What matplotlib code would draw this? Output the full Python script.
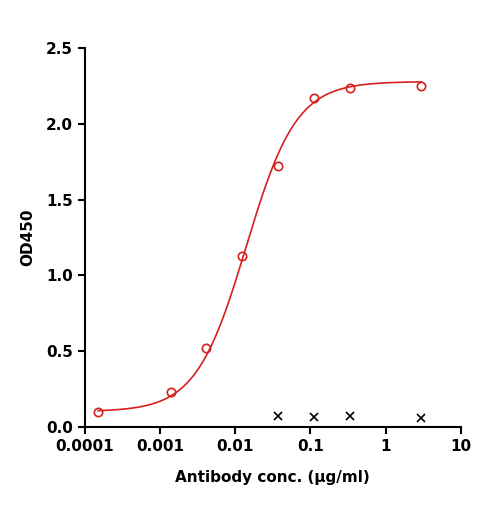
import numpy as np
import matplotlib
matplotlib.use("Agg")
import matplotlib.pyplot as plt

conc = [0.00015, 0.0014, 0.0041, 0.0123, 0.037, 0.111, 0.333, 3.0]
od = [0.10, 0.23, 0.52, 1.13, 1.72, 2.17, 2.24, 2.25]
ctrl_conc = [0.037, 0.111, 0.333, 3.0]
ctrl_od = [0.07, 0.065, 0.07, 0.06]
# 4PL fit parameters
bottom, top, ec50, hill = 0.1, 2.28, 0.014, 1.3

fig = plt.figure(figsize=(4.85, 5.08), dpi=100)
ax = fig.add_axes([0.175, 0.16, 0.775, 0.745])
xs = np.logspace(np.log10(0.00015), np.log10(3.0), 300)
ys = bottom + (top - bottom) / (1 + (ec50 / xs) ** hill)
ax.plot(xs, ys, color='#d62020', lw=1.2)
ax.plot(conc, od, 'o', mfc='none', mec='#d62020', ms=6, mew=1.2)
ax.plot(ctrl_conc, ctrl_od, 'x', color='black', ms=6, mew=1.2)
ax.set_xscale('log')
ax.set_xlim(0.0001, 10)
ax.set_ylim(0, 2.5)
ax.set_xticks([0.0001, 0.001, 0.01, 0.1, 1, 10])
ax.set_xticklabels(['0.0001', '0.001', '0.01', '0.1', '1', '10'])
ax.set_yticks([0, 0.5, 1.0, 1.5, 2.0, 2.5])
ax.set_yticklabels(['0.0', '0.5', '1.0', '1.5', '2.0', '2.5'])
ax.minorticks_off()
for s in ['top', 'right']:
    ax.spines[s].set_visible(False)
for s in ['left', 'bottom']:
    ax.spines[s].set_linewidth(1.5)
ax.tick_params(width=1.5, length=5, labelsize=11)
for lab in ax.get_xticklabels() + ax.get_yticklabels():
    lab.set_fontweight('bold')
ax.set_xlabel('Antibody conc. (μg/ml)', fontsize=11, fontweight='bold', labelpad=12)
ax.set_ylabel('OD450', fontsize=11, fontweight='bold', labelpad=8)
fig.savefig('out.png', dpi=100)
